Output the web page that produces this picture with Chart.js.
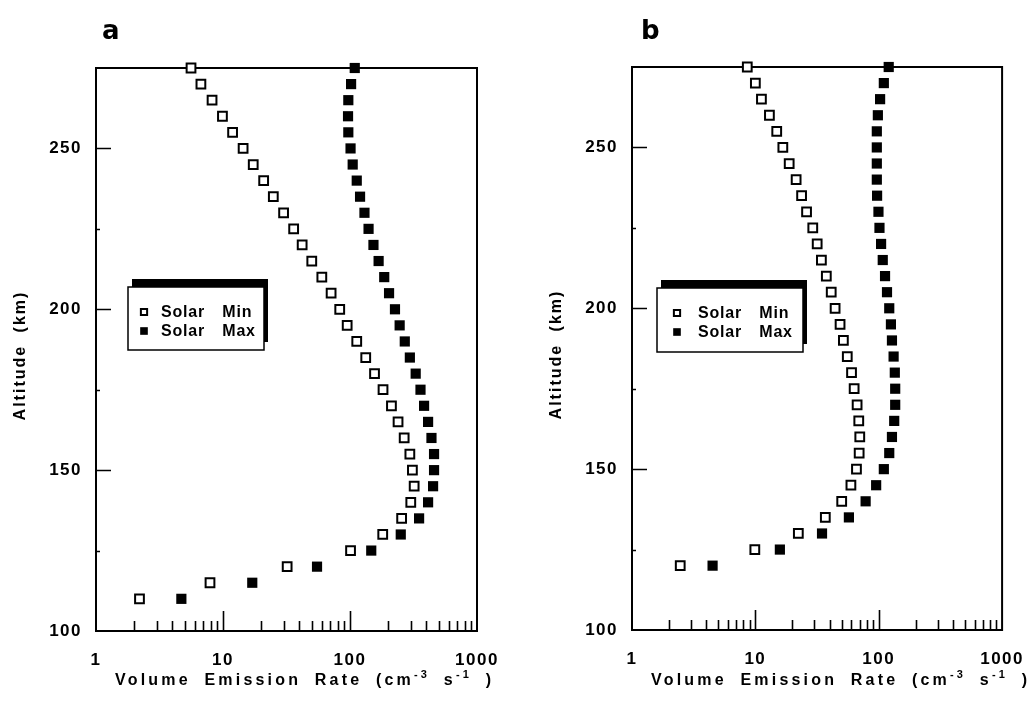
<!DOCTYPE html>
<html>
<head>
<meta charset="utf-8">
<title>Volume emission rate profiles</title>
<script src="https://cdn.jsdelivr.net/npm/chart.js@4.4.1/dist/chart.umd.min.js"></script>
<style>
  html, body { margin: 0; padding: 0; background: #fff; }
  #wrap { position: relative; width: 1032px; height: 702px; overflow: hidden; }
  canvas { position: absolute; top: 0; }
  #chartA { left: 0; }
  #chartB { left: 536px; }
  .tag { position: absolute; top: 17px; font: bold 26px "DejaVu Sans"; line-height: 26px; color: #000; }
</style>
</head>
<body>
<div id="wrap">
  <canvas id="chartA" width="516" height="702"></canvas>
  <canvas id="chartB" width="496" height="702"></canvas>
  <div class="tag" style="left:102px">a</div>
  <div class="tag" style="left:641px">b</div>
</div>
<script>
// altitude grid (km) and emission rates (cm^-3 s^-1), panel a
const altitudeA = [110, 115, 120, 125, 130, 135, 140, 145, 150, 155, 160, 165, 170, 175, 180, 185, 190,
  195, 200, 205, 210, 215, 220, 225, 230, 235, 240, 245, 250, 255, 260, 265, 270, 275];
const solarMinA = [2.2, 7.9, 32, 101, 181, 255, 301, 320, 310, 296, 267, 239, 212, 182, 156, 133, 113,
  95, 83, 71, 60, 50, 42, 36, 30, 24.9, 20.9, 17.3, 14.4, 11.9, 9.9, 8.2, 6.7, 5.6];
const solarMaxA = [4.7, 17, 55, 147, 251, 350, 412, 451, 459, 459, 438, 412, 383, 359, 329, 296, 270,
  246, 226, 203, 186, 168, 153, 140, 130, 120, 113, 105, 101, 97, 96.5, 97, 102, 109];

// panel b
const altitudeB = [120, 125, 130, 135, 140, 145, 150, 155, 160, 165, 170, 175, 180, 185, 190,
  195, 200, 205, 210, 215, 220, 225, 230, 235, 240, 245, 250, 255, 260, 265, 270, 275];
const solarMinB = [2.46, 9.9, 22.3, 36.9, 50.1, 59.5, 66, 69.4, 70.2, 68.9, 66.8, 63.2, 60.2, 55.6, 51.7,
  48.6, 44.3, 41.2, 37.6, 34.3, 31.7, 29.2, 26, 23.7, 21.4, 18.8, 16.7, 14.9, 13, 11.2, 10, 8.6];
const solarMaxB = [4.5, 15.8, 34.7, 57.3, 78.3, 95.3, 110, 121.7, 128, 133.5, 136, 136, 135, 132, 128,
  125.6, 121.7, 116.7, 112.5, 107.8, 104.5, 101.4, 99.5, 97, 96.5, 96.5, 96.5, 96.5, 98.4, 102.6, 110, 120.5];

const seriesNames = ['Solar Min', 'Solar Max'];
const xTickValues = [1, 2, 3, 4, 5, 6, 7, 8, 9, 10, 20, 30, 40, 50, 60, 70, 80, 90,
  100, 200, 300, 400, 500, 600, 700, 800, 900, 1000];
const xLabeled = [1, 10, 100, 1000];
const yLabeled = [100, 150, 200, 250];
const xTitleParts = [
  { text: 'Volume Emission Rate (cm' },
  { text: '-3', sup: true },
  { text: ' s' },
  { text: '-1', sup: true },
  { text: ' )' },
];
const yTitle = 'Altitude (km)';

const FONT = '"Liberation Sans", Arial, sans-serif';

const toPoints = (alt, vals) => vals.map((v, i) => ({ x: v, y: alt[i] }));

// plot frame plus inward tick marks
const framePlugin = {
  id: 'frame',
  beforeDraw(chart) {
    chart.ctx.letterSpacing = '1.5px';
  },
  beforeDatasetsDraw(chart) {
    const { ctx, chartArea: a } = chart;
    const xs = chart.scales.x;
    const ys = chart.scales.y;
    ctx.save();
    ctx.strokeStyle = '#000';
    ctx.lineWidth = 2;
    ctx.strokeRect(a.left, a.top, a.right - a.left, a.bottom - a.top);
    ctx.lineWidth = 1.6;
    ctx.beginPath();
    xs.ticks.forEach((t) => {
      if (t.value <= xs.min || t.value >= xs.max) return;
      const px = Math.round(xs.getPixelForValue(t.value)) + 0.5;
      const len = xLabeled.includes(t.value) ? 20 : 10;
      ctx.moveTo(px, a.bottom);
      ctx.lineTo(px, a.bottom - len);
    });
    ys.ticks.forEach((t) => {
      if (t.value <= ys.min || t.value >= ys.max) return;
      const py = Math.round(ys.getPixelForValue(t.value)) + 0.5;
      const len = t.value % 50 === 0 ? 15 : 4;
      ctx.moveTo(a.left, py);
      ctx.lineTo(a.left + len, py);
    });
    ctx.stroke();
    ctx.restore();
  },
  afterDraw(chart) {
    const { ctx, chartArea: a } = chart;
    ctx.save();
    ctx.fillStyle = '#000';
    ctx.textBaseline = 'alphabetic';
    ctx.textAlign = 'left';

    // x title with superscripts
    ctx.letterSpacing = '3.2px';
    ctx.wordSpacing = '6px';
    let x = a.left + 19;
    const base = 685;
    xTitleParts.forEach((p) => {
      ctx.font = p.sup ? `bold 11px ${FONT}` : `bold 16px ${FONT}`;
      ctx.fillText(p.text, x, p.sup ? base - 7 : base);
      x += ctx.measureText(p.text).width;
    });

    // y title, rotated
    ctx.font = `bold 16px ${FONT}`;
    ctx.letterSpacing = '2px';
    ctx.wordSpacing = '6px';
    ctx.textAlign = 'center';
    ctx.textBaseline = 'middle';
    ctx.translate(21, (a.top + a.bottom) / 2 + 6);
    ctx.rotate(-Math.PI / 2);
    ctx.fillText(yTitle, 0, 0);
    ctx.restore();
  },
};

// legend box with offset black shadow
const boxLegend = {
  id: 'boxLegend',
  afterDatasetsDraw(chart, args, opts) {
    const { ctx } = chart;
    const { x, y, w, h } = opts;
    ctx.save();
    ctx.fillStyle = '#000';
    ctx.fillRect(x + 4, y - 8, w, h);
    ctx.fillStyle = '#fff';
    ctx.fillRect(x, y, w, h);
    ctx.strokeStyle = '#000';
    ctx.lineWidth = 1.5;
    ctx.strokeRect(x, y, w, h);
    chart.data.datasets.forEach((ds, i) => {
      const rowY = y + 25 + i * 19;
      ctx.fillStyle = ds.backgroundColor;
      ctx.strokeStyle = ds.borderColor;
      ctx.lineWidth = ds.borderWidth;
      Chart.helpers.drawPoint(ctx, {
        pointStyle: 'rect',
        radius: ds.borderWidth ? 4.4 : 5.4,
        rotation: 0,
        borderWidth: ds.borderWidth,
      }, opts.markerX, rowY);
      ctx.fillStyle = '#000';
      ctx.font = `bold 16px ${FONT}`;
      ctx.letterSpacing = '0.8px';
      ctx.wordSpacing = '12px';
      ctx.textAlign = 'left';
      ctx.textBaseline = 'middle';
      ctx.fillText(ds.label, opts.textX, rowY + 1);
    });
    ctx.restore();
  },
};

function makePanel(canvasId, alt, minVals, maxVals, layout) {
  return new Chart(document.getElementById(canvasId), {
    type: 'scatter',
    data: {
      datasets: [
        {
          label: seriesNames[0],
          data: toPoints(alt, minVals),
          pointStyle: 'rect',
          pointRadius: 6.2,
          backgroundColor: '#fff',
          borderColor: '#000',
          borderWidth: 2,
          clip: false,
        },
        {
          label: seriesNames[1],
          data: toPoints(alt, maxVals),
          pointStyle: 'rect',
          pointRadius: 7.2,
          backgroundColor: '#000',
          borderColor: '#000',
          borderWidth: 0,
          clip: false,
        },
      ],
    },
    options: {
      responsive: false,
      animation: false,
      events: [],
      layout: { padding: { left: 0, top: layout.top, right: layout.right, bottom: 0 } },
      plugins: {
        legend: { display: false },
        tooltip: { enabled: false },
        boxLegend: layout.legend,
      },
      scales: {
        x: {
          type: 'logarithmic',
          min: 1,
          max: 1000,
          grid: { display: false },
          border: { display: false },
          afterBuildTicks: (s) => { s.ticks = xTickValues.map((v) => ({ value: v })); },
          afterFit: (s) => { s.height = layout.xHeight; },
          ticks: {
            autoSkip: false,
            maxRotation: 0,
            padding: 11,
            color: '#000',
            font: { family: FONT, weight: 'bold', size: 17 },
            callback: (v) => (xLabeled.includes(v) ? String(v) : ''),
          },
        },
        y: {
          type: 'linear',
          min: 100,
          max: 275,
          grid: { display: false },
          border: { display: false },
          afterFit: (s) => { s.width = 96; },
          ticks: {
            stepSize: 25,
            padding: 6,
            color: '#000',
            font: { family: FONT, weight: 'bold', size: 17 },
            callback: (v) => (yLabeled.includes(v) ? String(v) : ''),
          },
        },
      },
    },
    plugins: [framePlugin, boxLegend],
  });
}

makePanel('chartA', altitudeA, solarMinA, solarMaxA, {
  top: 68, right: 39, xHeight: 71,
  legend: { x: 128, y: 287, w: 136, h: 63, markerX: 144, textX: 161 },
});
makePanel('chartB', altitudeB, solarMinB, solarMaxB, {
  top: 67, right: 24, xHeight: 72,
  legend: { x: 121, y: 288, w: 146, h: 64, markerX: 141, textX: 162 },
});
</script>
</body>
</html>
